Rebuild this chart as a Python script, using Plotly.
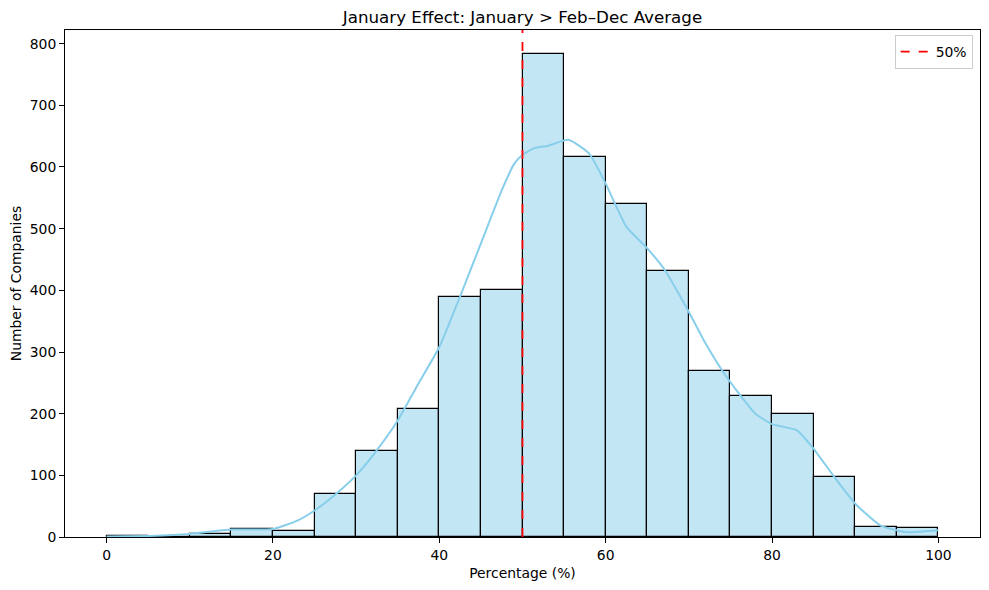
import plotly.graph_objects as go

# histogram bins (left edges, width 5) and counts
bin_left = [0, 5, 10, 15, 20, 25, 30, 35, 40, 45, 50, 55, 60, 65, 70, 75, 80, 85, 90, 95]
counts = [1, 0, 5, 13, 9, 69, 140, 207, 390, 400, 783, 617, 540, 432, 270, 229, 200, 98, 17, 14]
bin_width = 5

# kde curve, sampled by eye
kde_x = [0, 6, 10, 15, 20, 23, 25, 27.5, 30, 32.5, 35, 37.5, 40, 42.5, 45, 47.5, 49, 50, 51.5, 53,
         55.5, 58, 60, 62.5, 65, 67, 70, 72, 74, 76, 78, 80, 83, 85, 87.5, 90, 93, 96, 100]
kde_y = [1, 2, 5, 12, 13, 27, 43, 69, 100, 141, 189, 249, 308, 390, 476, 562, 605, 620, 631, 634,
         644, 622, 573, 503, 468, 435, 365, 314, 270, 233, 200, 183, 173, 143, 97, 54, 19, 8, 11]

threshold = 50
x_ticks = [0, 20, 40, 60, 80, 100]
y_ticks = [0, 100, 200, 300, 400, 500, 600, 700, 800]

font = "DejaVu Sans"
fs = 13.9

fig = go.Figure()

fig.add_trace(go.Bar(
    x=[b + bin_width / 2 for b in bin_left], y=counts, width=bin_width,
    marker=dict(color="rgba(135,206,235,0.5)", line=dict(color="black", width=1.2)),
    showlegend=False, hoverinfo="x+y",
))

fig.add_trace(go.Scatter(
    x=kde_x, y=kde_y, mode="lines", line=dict(color="#87CEEB", width=2, shape="spline", smoothing=0.5),
    showlegend=False,
))

# legend entry for the threshold line
fig.add_trace(go.Scatter(
    x=[None], y=[None], mode="lines", name=f"{threshold}%",
    line=dict(color="red", width=1.8, dash="dash"),
))
fig.add_vline(x=threshold, line=dict(color="red", width=1.8, dash="dash"), layer="above")

ymax = max(counts) * 1.05

# the page body adds an 8px offset, margins are shifted to compensate
fig.update_layout(
    width=989, height=590,
    margin=dict(l=57, r=17, t=22, b=61, autoexpand=False),
    plot_bgcolor="white", paper_bgcolor="white",
    font=dict(family=font, size=fs, color="black"),
    title=dict(text="January Effect: January > Feb\u2013Dec Average", x=0.5, xanchor="center",
               xref="paper", y=1 - 9 / 590, yanchor="middle", font=dict(size=16.7)),
    bargap=0,
    legend=dict(x=0.992, y=0.99, xanchor="right", yanchor="top", bgcolor="white",
                bordercolor="#cccccc", borderwidth=1, font=dict(size=fs), itemwidth=30),
)
fig.update_xaxes(
    range=[-5, 105], tickvals=x_ticks, ticks="outside", ticklen=5, tickcolor="black",
    showline=True, linecolor="black", linewidth=1, mirror=True, showgrid=False, zeroline=False,
    automargin=False, tickfont=dict(size=fs),
    title=dict(text="Percentage (%)", standoff=6, font=dict(size=fs)),
)
fig.update_yaxes(
    range=[0, ymax], tickvals=y_ticks, ticks="outside", ticklen=5, tickcolor="black",
    showline=True, linecolor="black", linewidth=1, mirror=True, showgrid=False, zeroline=False,
    automargin=False, tickfont=dict(size=fs),
    title=dict(text="Number of Companies", standoff=4, font=dict(size=fs)),
)

fig.write_html("out.html")
